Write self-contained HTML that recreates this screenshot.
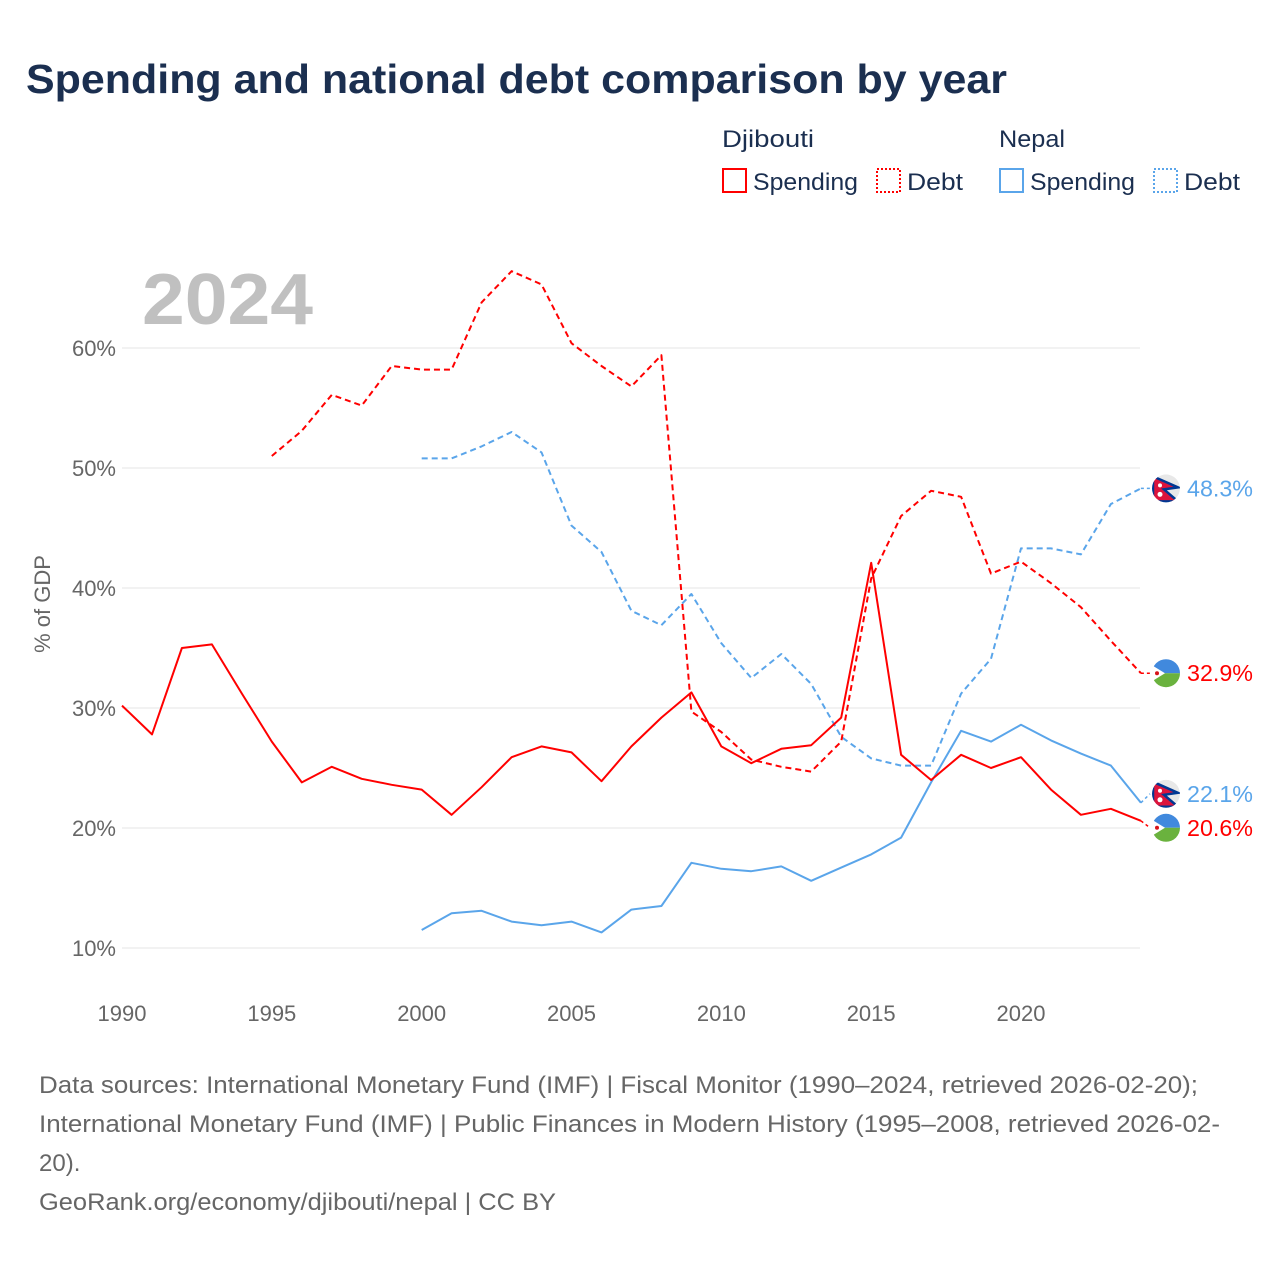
<!DOCTYPE html>
<html><head><meta charset="utf-8"><style>
body{margin:0;background:#fff;width:1280px;height:1280px;overflow:hidden;font-family:"Liberation Sans",sans-serif}
</style></head><body>
<svg id="chart" width="1280" height="1280" xmlns="http://www.w3.org/2000/svg">
<text x="26" y="93" font-size="41" font-weight="bold" fill="#1b2f50" textLength="981" lengthAdjust="spacingAndGlyphs">Spending and national debt comparison by year</text>
<g font-size="24" fill="#1b2f50">
<text x="722" y="147" textLength="92" lengthAdjust="spacingAndGlyphs">Djibouti</text>
<text x="999" y="147" textLength="66" lengthAdjust="spacingAndGlyphs">Nepal</text>
<rect x="723" y="169" width="23" height="23" fill="none" stroke="#f00" stroke-width="2"/>
<text x="753" y="190" textLength="105" lengthAdjust="spacingAndGlyphs">Spending</text>
<rect x="877" y="169" width="23" height="23" fill="none" stroke="#f00" stroke-width="2" stroke-dasharray="2,2"/>
<text x="907" y="190" textLength="56" lengthAdjust="spacingAndGlyphs">Debt</text>
<rect x="1000" y="169" width="23" height="23" fill="none" stroke="#5aa5ea" stroke-width="2"/>
<text x="1030" y="190" textLength="105" lengthAdjust="spacingAndGlyphs">Spending</text>
<rect x="1154" y="169" width="23" height="23" fill="none" stroke="#5aa5ea" stroke-width="2" stroke-dasharray="2,2"/>
<text x="1184" y="190" textLength="56" lengthAdjust="spacingAndGlyphs">Debt</text>
</g>
<text x="142" y="324" font-size="72" font-weight="bold" fill="#c0c0c0" textLength="171" lengthAdjust="spacingAndGlyphs">2024</text>
<text transform="translate(50,604) rotate(-90)" text-anchor="middle" font-size="22" fill="#666">% of GDP</text>
<g id="grid"></g><g id="series"></g><g id="ends"></g>
<g font-size="24" fill="#666">
<text x="39" y="1093" textLength="1159" lengthAdjust="spacingAndGlyphs">Data sources: International Monetary Fund (IMF) | Fiscal Monitor (1990–2024, retrieved 2026-02-20);</text>
<text x="39" y="1132" textLength="1181" lengthAdjust="spacingAndGlyphs">International Monetary Fund (IMF) | Public Finances in Modern History (1995–2008, retrieved 2026-02-</text>
<text x="39" y="1171">20).</text>
<text x="39" y="1210" textLength="517" lengthAdjust="spacingAndGlyphs">GeoRank.org/economy/djibouti/nepal | CC BY</text>
</g>
</svg>
<script>
const yTicks=[10,20,30,40,50,60];
const xTicks=[1990,1995,2000,2005,2010,2015,2020];
const djSpendYears=[1990,1991,1992,1993,1994,1995,1996,1997,1998,1999,2000,2001,2002,2003,2004,2005,2006,2007,2008,2009,2010,2011,2012,2013,2014,2015,2016,2017,2018,2019,2020,2021,2022,2023,2024];
const djSpend=[30.2,27.8,35.0,35.3,31.2,27.2,23.8,25.1,24.1,23.6,23.2,21.1,23.4,25.9,26.8,26.3,23.9,26.8,29.2,31.3,26.8,25.4,26.6,26.9,29.2,42.1,26.1,24.0,26.1,25.0,25.9,23.2,21.1,21.6,20.6];
const djDebtYears=[1995,1996,1997,1998,1999,2000,2001,2002,2003,2004,2005,2006,2007,2008,2009,2010,2011,2012,2013,2014,2015,2016,2017,2018,2019,2020,2021,2022,2023,2024];
const djDebt=[51.0,53.1,56.1,55.2,58.5,58.2,58.2,63.8,66.4,65.3,60.4,58.5,56.8,59.4,29.7,28.0,25.7,25.1,24.7,27.2,40.8,46.0,48.1,47.6,41.2,42.2,40.4,38.4,35.6,32.9];
const npYears=[2000,2001,2002,2003,2004,2005,2006,2007,2008,2009,2010,2011,2012,2013,2014,2015,2016,2017,2018,2019,2020,2021,2022,2023,2024];
const npSpend=[11.5,12.9,13.1,12.2,11.9,12.2,11.3,13.2,13.5,17.1,16.6,16.4,16.8,15.6,16.7,17.8,19.2,23.8,28.1,27.2,28.6,27.3,26.2,25.2,22.1];
const npDebt=[50.8,50.8,51.8,53.0,51.3,45.2,43.0,38.1,36.9,39.5,35.4,32.5,34.5,32.0,27.6,25.8,25.2,25.2,31.2,34.1,43.3,43.3,42.8,47.0,48.3];
const NS='http://www.w3.org/2000/svg';
const X=y=>122+(y-1990)*29.967;
const Y=v=>948-(v-10)*12;
function mk(t,a,p){const e=document.createElementNS(NS,t);for(const k in a)e.setAttribute(k,a[k]);p.appendChild(e);return e;}
const grid=document.getElementById('grid');
yTicks.forEach(v=>{
 const l=mk('line',{x1:122,x2:1140,y1:Y(v),y2:Y(v),stroke:'#e6e6e6','stroke-width':1},grid);
 
 
 const t=mk('text',{x:116,y:Y(v)+8,'text-anchor':'end','font-size':22,fill:'#666'},grid);
 t.textContent=v+'%';
 
 
});
xTicks.forEach(v=>{
 const t=mk('text',{x:X(v),y:1021,'text-anchor':'middle','font-size':22,fill:'#666'},grid);
 t.textContent=v;
 
 
});
const ser=document.getElementById('series');
function line(xs,vs,col,dash,name){
 const d=xs.map((x,i)=>(i?'L':'M')+X(x).toFixed(1)+','+Y(vs[i]).toFixed(1)).join('');
 const p=mk('path',{d:d,fill:'none',stroke:col,'stroke-width':2,'stroke-dasharray':dash||'none','stroke-linejoin':'round'},ser);
 
 
}
line(npYears,npDebt,'#5aa5ea','6,4','line-nepal-debt');
line(npYears,npSpend,'#5aa5ea','','line-nepal-spending');
line(djDebtYears,djDebt,'#f00','6,4','line-djibouti-debt');
line(djSpendYears,djSpend,'#f00','','line-djibouti-spending');
const ends=document.getElementById('ends');
let clipN=0;
function flag(cx,cy,nepal,name){
 const g=mk('g',{},ends);
 
 
 if(nepal){
  const id='fc'+(clipN++);
  const cp=mk('clipPath',{id:id},g);
  mk('circle',{cx:cx,cy:cy,r:14},cp);
  const h=mk('g',{'clip-path':'url(#'+id+')'},g);
  mk('circle',{cx:cx,cy:cy,r:14,fill:'#e8e8e8'},h);
  mk('path',{d:`M${cx-13},${cy-12}L${cx+12},${cy-1}L${cx-2},${cy+1}L${cx+12},${cy+13}L${cx-13},${cy+13}Z`,fill:'#dc143c',stroke:'#003893','stroke-width':2.5},h);
  mk('circle',{cx:cx-6,cy:cy-3,r:2,fill:'#fff'},h);
  mk('circle',{cx:cx-6,cy:cy+6,r:2.5,fill:'#fff'},h);
 }else{
  mk('path',{d:`M${cx-14},${cy}A14,14 0 0 1 ${cx+14},${cy}Z`,fill:'#4189dd'},g);
  mk('path',{d:`M${cx-14},${cy}A14,14 0 0 0 ${cx+14},${cy}Z`,fill:'#6ab23e'},g);
  mk('path',{d:`M${cx-14},${cy-8}L${cx-1},${cy}L${cx-14},${cy+8}Z`,fill:'#fff'},g);
  mk('circle',{cx:cx-9,cy:cy,r:2,fill:'#d7141a'},g);
 }
}
function endLabel(xs,vs,col,nepal,key,ly){
 const v=vs[vs.length-1],x=X(xs[xs.length-1]),y=Y(v);
 const c=mk('line',{x1:x,y1:y,x2:1150,y2:ly,stroke:col,'stroke-width':1.5,'stroke-dasharray':'3,3'},ends);
 
 
 flag(1166,ly,nepal,'flag-'+key);
 const t=mk('text',{x:1187,y:ly+8,'font-size':23,fill:col,textLength:66,lengthAdjust:'spacingAndGlyphs'},ends);
 t.textContent=v.toFixed(1)+'%';
 
 
}
endLabel(npYears,npDebt,'#5aa5ea',true,'nepal-debt',Y(npDebt[npDebt.length-1]));
endLabel(djDebtYears,djDebt,'#f00',false,'djibouti-debt',Y(djDebt[djDebt.length-1]));
endLabel(npYears,npSpend,'#5aa5ea',true,'nepal-spending',Y(npSpend[npSpend.length-1])-9);
endLabel(djSpendYears,djSpend,'#f00',false,'djibouti-spending',Y(djSpend[djSpend.length-1])+7);
</script>
</body></html>
